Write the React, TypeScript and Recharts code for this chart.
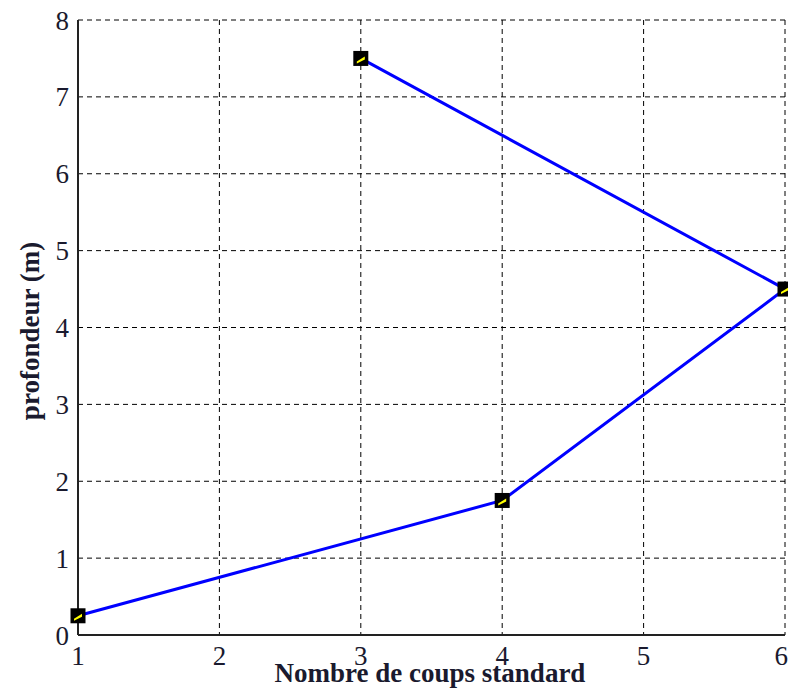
import React from 'react';
import { LineChart, Line, XAxis, YAxis, CartesianGrid, Label } from 'recharts';

const coups = [1, 4, 6, 3];
const profondeur = [0.25, 1.75, 4.5, 7.5];
const xTicks = [1, 2, 3, 4, 5, 6];
const yTicks = [0, 1, 2, 3, 4, 5, 6, 7, 8];

const data = coups.map((c, i) => ({ x: c, y: profondeur[i] }));

const FONT = '"Liberation Serif", "Times New Roman", serif';
const TEXT = '#1a1a2e';

const Marker = (props: any) => {
  const { cx, cy } = props;
  if (cx == null || cy == null) return null;
  return (
    <g>
      <rect x={cx - 7.5} y={cy - 7.5} width={15} height={15} fill="#000" />
      <polygon points={`${cx - 4},${cy + 3} ${cx + 4},${cy - 2} ${cx + 4},${cy + 1} ${cx - 4},${cy + 5}`} fill="#ffff00" />
    </g>
  );
};

export default function App() {
  return (
    <div style={{ position: 'absolute', left: 0, top: 0, background: '#fff' }}>
      <LineChart width={788} height={691} data={data} margin={{ top: 20, right: 3, bottom: 0, left: 0 }}>
        <CartesianGrid stroke="#000" strokeDasharray="5 4" strokeWidth={1} />
        <XAxis
          xAxisId="top"
          orientation="top"
          type="number"
          dataKey="x"
          domain={[1, 6]}
          ticks={xTicks}
          height={0}
          tick={false}
          tickLine={false}
          axisLine={{ stroke: '#222', strokeWidth: 2 }}
        />
        <YAxis
          yAxisId="right"
          orientation="right"
          type="number"
          domain={[0, 8]}
          ticks={yTicks}
          width={0}
          tick={false}
          tickLine={false}
          axisLine={{ stroke: '#222', strokeWidth: 2 }}
        />
        <XAxis
          type="number"
          dataKey="x"
          domain={[1, 6]}
          ticks={xTicks}
          height={56}
          tickLine={false}
          tickSize={0}
          tickMargin={11}
          axisLine={{ stroke: '#222', strokeWidth: 2 }}
          tick={{ fontFamily: FONT, fontSize: 27, fill: TEXT }}
        >
          <Label
            content={() => (
              <text x={430} y={682} textAnchor="middle" fontFamily={FONT} fontSize={27} fontWeight="bold" fill={TEXT}>
                Nombre de coups standard
              </text>
            )}
          />
        </XAxis>
        <YAxis
          type="number"
          domain={[0, 8]}
          ticks={yTicks}
          width={78}
          tickLine={false}
          tickSize={0}
          tickMargin={9}
          axisLine={{ stroke: '#222', strokeWidth: 2 }}
          tick={{ fontFamily: FONT, fontSize: 27, fill: TEXT }}
        >
          <Label
            content={() => (
              <text
                x={30}
                y={331}
                textAnchor="middle"
                dominantBaseline="central"
                transform="rotate(-90 30 331)"
                fontFamily={FONT}
                fontSize={27}
                fontWeight="bold"
                fill={TEXT}
              >
                profondeur (m)
              </text>
            )}
          />
        </YAxis>
        <Line
          type="linear"
          dataKey="y"
          stroke="#0000ff"
          strokeWidth={3}
          dot={<Marker />}
          activeDot={false}
          isAnimationActive={false}
        />
      </LineChart>
    </div>
  );
}
